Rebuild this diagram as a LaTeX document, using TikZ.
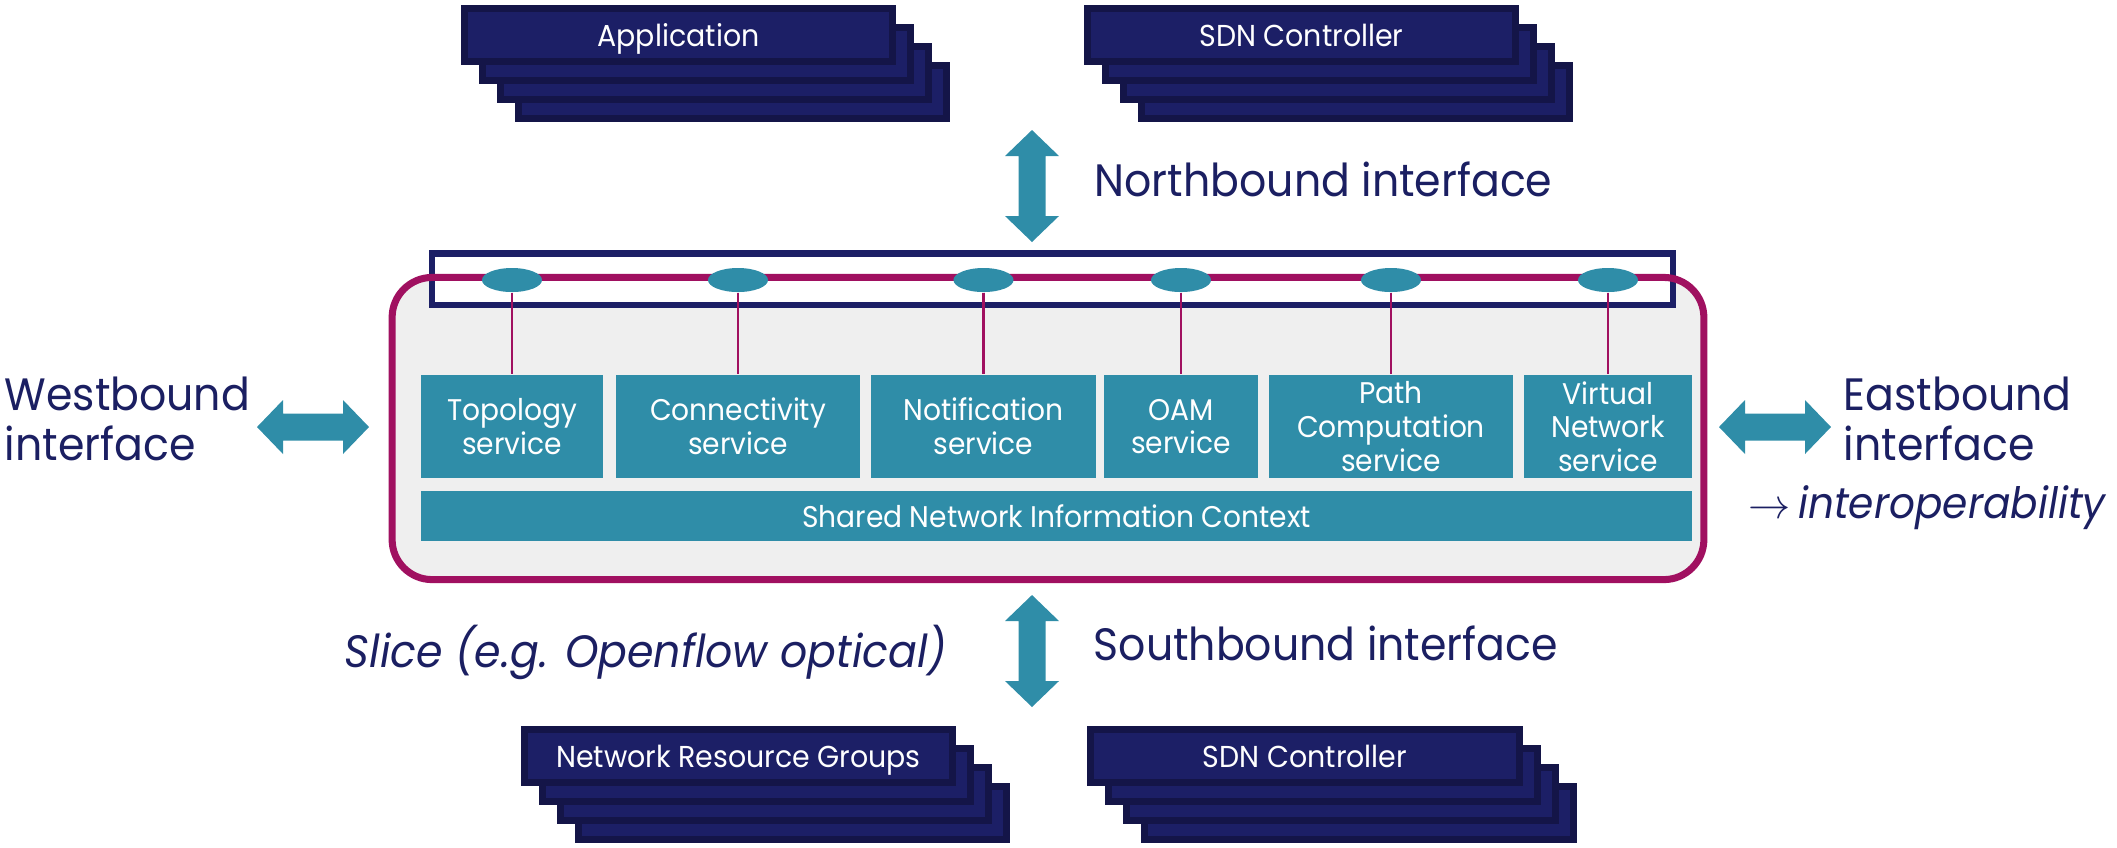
\documentclass[tikz,border=0pt]{standalone}
\usepackage{fontspec}
\setmainfont{Poppins}[FakeStretch=0.94]
\usetikzlibrary{positioning,shapes.geometric}
\definecolor{NavyText}{RGB}{27,31,98}
\definecolor{NavyFill}{RGB}{28,31,102}
\definecolor{NavyEdge}{RGB}{20,21,72}
\definecolor{TealBlue}{RGB}{47,141,168}
\definecolor{PlumRed}{RGB}{160,16,96}
\definecolor{PanelGray}{RGB}{239,239,239}
\tikzset{
  stackbox/.style={draw=NavyEdge, line width=2pt, fill=NavyFill, minimum width=4.28cm, minimum height=0.53cm,
    inner sep=0pt, text height=7.5pt, text depth=1pt, font=\fontsize{8.6}{9}\selectfont, text=white},
  svcbox/.style={fill=TealBlue, minimum height=1.03cm, inner sep=0pt, align=center,
    font=\fontsize{8.5}{9.6}\selectfont, text=white},
  port/.style={ellipse, fill=TealBlue, minimum width=0.6cm, minimum height=0.24cm, inner sep=0pt},
  tie/.style={PlumRed, line width=0.7pt},
  panel/.style={fill=PanelGray, rounded corners=0.4cm, minimum width=13.11cm, minimum height=3.02cm,
    inner sep=0pt, outer sep=0pt},
  busbox/.style={draw=NavyFill, line width=1.85pt, fill=white, minimum width=12.405cm, minimum height=0.515cm,
    inner sep=0pt},
  biglabel/.style={font=\fontsize{12.9}{14.2}\selectfont, text=NavyText, inner sep=0pt},
  bigarrow/.style={fill=TealBlue},
}

\begin{document}
\begin{tikzpicture}[x=0.01cm, y=-0.01cm]
  \useasboundingbox (0,0) rectangle (2117,847);
  % stacked boxes
  \foreach \nm/\cx/\cy/\txt in {app/678.5/35/Application, ctlN/1301.5/35/SDN Controller,
      nrg/738.5/756/Network Resource Groups, ctlS/1305/756/SDN Controller} {
    \foreach \k in {3,2,1}
      \node[stackbox] (\nm\k) at ({\cx+18*\k},{\cy+19*\k}) {};
    \node[stackbox] (\nm) at (\cx,\cy) {\txt};
  }
  % controller panel
  \node[panel] (panel) at (1048,428.5) {};
  \node[busbox] (bus) at (1052.5,279) {};
  \draw[PlumRed, line width=2pt, rounded corners=0.4cm] (panel.north west) rectangle (panel.south east);
  \foreach \nm/\xa/\xb/\txt in {topo/421/603/{Topology\\service}, conn/616/860/{Connectivity\\service},
      notif/871/1096/{Notification\\service}, oam/1104/1258/{OAM\\service},
      pathc/1269/1513/{Path\\Computation\\service}, virt/1524/1692/{Virtual\\Network\\service}} {
    \node[svcbox, minimum width={(\xb-\xa)*0.01cm}] (\nm) at ({(\xa+\xb)/2},426.5) {\txt};
    \node[port] (\nm-port) at ({(\xa+\xb)/2},280) {};
    \draw[tie] (\nm-port) -- (\nm);
  }
  \node[svcbox, minimum width=12.71cm, minimum height=0.5cm] (shared) at (1056.5,516) {Shared Network Information Context};
  % interface arrows
  \foreach \ax/\ay/\rot in {1032/186/90, 1032/651/90, 313/427/0, 1775/427/0}
    \fill[bigarrow, shift={(\ax,\ay)}, rotate=\rot] (-56,0) -- (-30,-27) -- (-30,-13.5) -- (30,-13.5)
      -- (30,-27) -- (56,0) -- (30,27) -- (30,13.5) -- (-30,13.5) -- (-30,27) -- cycle;
  \node[biglabel, anchor=base west] (north) at (1094,196) {Northbound interface};
  \node[biglabel, anchor=base west] (south) at (1093,660) {Southbound interface};
  \node[biglabel, anchor=base west] (slice) at (344,667) {\itshape Slice (e.g. Openflow optical)};
  \node[biglabel, anchor=south west, align=left] (west) at (4,462) {Westbound\\interface};
  \node[biglabel, anchor=south west, align=left] (east) at (1843,462) {Eastbound\\interface};
  \node[biglabel, anchor=base west, font=\fontsize{12.3}{14.2}\selectfont] (interop) at (1748,518)
    {$\rightarrow$\,\textit{interoperability}};
\end{tikzpicture}
\end{document}
